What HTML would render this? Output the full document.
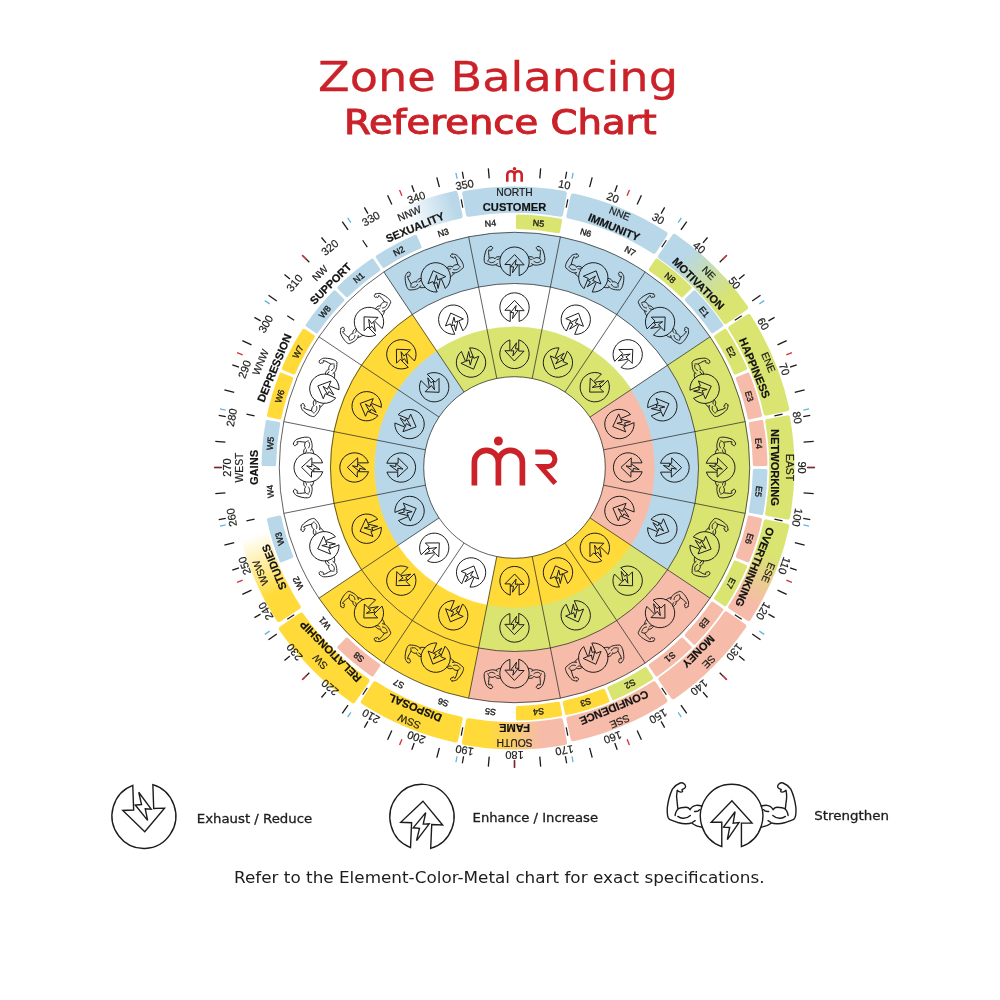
<!DOCTYPE html>
<html lang="en">
<head>
<meta charset="utf-8">
<title>Zone Balancing Reference Chart</title>
<style>
html,body{margin:0;padding:0;background:#fff;}
body{width:1000px;height:1000px;overflow:hidden;position:relative;}
svg{display:block;position:absolute;left:0;top:0;}
</style>
</head>
<body>
<svg width="1000" height="1000" viewBox="0 0 1000 1000">
<defs>
<linearGradient id="g2" gradientUnits="userSpaceOnUse" x1="682.53" y1="257.76" x2="725.55" y2="301.12"><stop offset="0" stop-color="#B8D7E8"/><stop offset="1" stop-color="#DAE470"/></linearGradient>
<linearGradient id="g5" gradientUnits="userSpaceOnUse" x1="768.63" y1="552.28" x2="747.21" y2="600.23"><stop offset="0" stop-color="#DAE470"/><stop offset="1" stop-color="#F6BCA9"/></linearGradient>
<linearGradient id="g8" gradientUnits="userSpaceOnUse" x1="540.81" y1="734.61" x2="488.19" y2="734.61"><stop offset="0" stop-color="#F6BCA9"/><stop offset="1" stop-color="#FFDA38"/></linearGradient>
<linearGradient id="g11" gradientUnits="userSpaceOnUse" x1="277.44" y1="594.21" x2="254.41" y2="535.37"><stop offset="0" stop-color="#FFDA38"/><stop offset="1" stop-color="#FFFFFF"/></linearGradient>
<linearGradient id="g15" gradientUnits="userSpaceOnUse" x1="406.74" y1="221.14" x2="454.81" y2="205.31"><stop offset="0" stop-color="#FFFFFF"/><stop offset="1" stop-color="#B8D7E8"/></linearGradient>
<g id="enh" fill="none" stroke-linejoin="miter" stroke-linecap="round"><path vector-effect="non-scaling-stroke" d="M-0.315 0.949A1 1 0 1 1 0.315 0.949L0.315 0.215L0.655 0.215L0.01 -0.485L-0.655 0.19L-0.315 0.19Z"/><path vector-effect="non-scaling-stroke" d="M-0.136 0.731L-0.062 0.352L-0.259 0.342L0.112 -0.14L0.05 0.216L0.236 0.2Z"/></g>
<g id="exh"><use href="#enh" transform="scale(1 -1)"/></g>
<g id="arms" fill="none" stroke-linejoin="round" stroke-linecap="round"><path vector-effect="non-scaling-stroke" d="M-1.648 -1.038C-1.75 -1.0 -1.85 -0.91 -1.897 -0.847C-1.97 -0.7 -2.03 -0.5 -2.059 -0.282C-2.07 -0.15 -2.06 -0.02 -2.031 0.044L-1.992 0.102C-1.9 0.14 -1.8 0.17 -1.724 0.197C-1.6 0.23 -1.5 0.24 -1.456 0.236C-1.37 0.235 -1.3 0.215 -1.264 0.197L-1.169 0.14M-1.255 0.226C-1.2 0.27 -1.1 0.32 -0.94 0.345M-1.648 -1.038C-1.6 -1.05 -1.56 -1.04 -1.533 -1.019C-1.5 -0.99 -1.475 -0.96 -1.475 -0.933C-1.475 -0.9 -1.49 -0.88 -1.513 -0.866L-1.59 -0.828L-1.571 -0.78C-1.58 -0.76 -1.6 -0.75 -1.628 -0.751C-1.68 -0.76 -1.72 -0.79 -1.743 -0.808C-1.77 -0.7 -1.77 -0.55 -1.743 -0.416L-1.724 -0.243M-1.81 -0.023C-1.8 -0.1 -1.76 -0.2 -1.686 -0.243C-1.62 -0.27 -1.58 -0.275 -1.533 -0.272C-1.45 -0.29 -1.36 -0.26 -1.331 -0.2C-1.3 -0.27 -1.22 -0.33 -1.13 -0.339C-1.07 -0.345 -1.02 -0.335 -0.945 -0.32M-1.724 0.006C-1.66 0.05 -1.6 0.063 -1.571 0.063C-1.5 0.07 -1.38 0.03 -1.322 -0.023M-1.188 -0.148C-1.13 -0.14 -1.06 -0.16 -1.025 -0.205"/><path vector-effect="non-scaling-stroke" d="M-1.648 -1.038C-1.75 -1.0 -1.85 -0.91 -1.897 -0.847C-1.97 -0.7 -2.03 -0.5 -2.059 -0.282C-2.07 -0.15 -2.06 -0.02 -2.031 0.044L-1.992 0.102C-1.9 0.14 -1.8 0.17 -1.724 0.197C-1.6 0.23 -1.5 0.24 -1.456 0.236C-1.37 0.235 -1.3 0.215 -1.264 0.197L-1.169 0.14M-1.255 0.226C-1.2 0.27 -1.1 0.32 -0.94 0.345M-1.648 -1.038C-1.6 -1.05 -1.56 -1.04 -1.533 -1.019C-1.5 -0.99 -1.475 -0.96 -1.475 -0.933C-1.475 -0.9 -1.49 -0.88 -1.513 -0.866L-1.59 -0.828L-1.571 -0.78C-1.58 -0.76 -1.6 -0.75 -1.628 -0.751C-1.68 -0.76 -1.72 -0.79 -1.743 -0.808C-1.77 -0.7 -1.77 -0.55 -1.743 -0.416L-1.724 -0.243M-1.81 -0.023C-1.8 -0.1 -1.76 -0.2 -1.686 -0.243C-1.62 -0.27 -1.58 -0.275 -1.533 -0.272C-1.45 -0.29 -1.36 -0.26 -1.331 -0.2C-1.3 -0.27 -1.22 -0.33 -1.13 -0.339C-1.07 -0.345 -1.02 -0.335 -0.945 -0.32M-1.724 0.006C-1.66 0.05 -1.6 0.063 -1.571 0.063C-1.5 0.07 -1.38 0.03 -1.322 -0.023M-1.188 -0.148C-1.13 -0.14 -1.06 -0.16 -1.025 -0.205" transform="scale(-1 1)"/></g>
<g id="str"><use href="#enh"/><use href="#arms"/></g>
</defs>
<rect width="1000" height="1000" fill="#fff"/>
<path d="M487.07 329.6A140.6 140.6 0 0 1 541.93 329.6L532.21 378.44A90.8 90.8 0 0 0 496.79 378.44Z" fill="#DAE470" stroke="#DAE470" stroke-width="0.4"/>
<path d="M468.61 236.82A235.2 235.2 0 0 1 560.39 236.82L550.4 287.04A184 184 0 0 0 478.6 287.04Z" fill="#B8D7E8" stroke="#B8D7E8" stroke-width="0.4"/>
<path d="M541.93 329.6A140.6 140.6 0 0 1 592.61 350.6L564.95 392A90.8 90.8 0 0 0 532.21 378.44Z" fill="#DAE470" stroke="#DAE470" stroke-width="0.4"/>
<path d="M560.39 236.82A235.2 235.2 0 0 1 645.17 271.94L616.72 314.51A184 184 0 0 0 550.4 287.04Z" fill="#B8D7E8" stroke="#B8D7E8" stroke-width="0.4"/>
<path d="M592.61 350.6A140.6 140.6 0 0 1 631.4 389.39L590 417.05A90.8 90.8 0 0 0 564.95 392Z" fill="#DAE470" stroke="#DAE470" stroke-width="0.4"/>
<path d="M645.17 271.94A235.2 235.2 0 0 1 710.06 336.83L667.49 365.28A184 184 0 0 0 616.72 314.51Z" fill="#B8D7E8" stroke="#B8D7E8" stroke-width="0.4"/>
<path d="M631.4 389.39A140.6 140.6 0 0 1 652.4 440.07L603.56 449.79A90.8 90.8 0 0 0 590 417.05Z" fill="#F6BCA9" stroke="#F6BCA9" stroke-width="0.4"/>
<path d="M667.74 365.11A184.3 184.3 0 0 1 695.26 431.54L652.1 440.13A140.3 140.3 0 0 0 631.16 389.55Z" fill="#B8D7E8" stroke="#B8D7E8" stroke-width="0.4"/>
<path d="M710.06 336.83A235.2 235.2 0 0 1 745.18 421.61L694.96 431.6A184 184 0 0 0 667.49 365.28Z" fill="#DAE470" stroke="#DAE470" stroke-width="0.4"/>
<path d="M652.4 440.07A140.6 140.6 0 0 1 652.4 494.93L603.56 485.21A90.8 90.8 0 0 0 603.56 449.79Z" fill="#F6BCA9" stroke="#F6BCA9" stroke-width="0.4"/>
<path d="M695.26 431.54A184.3 184.3 0 0 1 695.26 503.46L652.1 494.87A140.3 140.3 0 0 0 652.1 440.13Z" fill="#B8D7E8" stroke="#B8D7E8" stroke-width="0.4"/>
<path d="M745.18 421.61A235.2 235.2 0 0 1 745.18 513.39L694.96 503.4A184 184 0 0 0 694.96 431.6Z" fill="#DAE470" stroke="#DAE470" stroke-width="0.4"/>
<path d="M652.4 494.93A140.6 140.6 0 0 1 631.4 545.61L590 517.95A90.8 90.8 0 0 0 603.56 485.21Z" fill="#F6BCA9" stroke="#F6BCA9" stroke-width="0.4"/>
<path d="M695.26 503.46A184.3 184.3 0 0 1 667.74 569.89L631.16 545.45A140.3 140.3 0 0 0 652.1 494.87Z" fill="#B8D7E8" stroke="#B8D7E8" stroke-width="0.4"/>
<path d="M745.18 513.39A235.2 235.2 0 0 1 710.06 598.17L667.49 569.72A184 184 0 0 0 694.96 503.4Z" fill="#DAE470" stroke="#DAE470" stroke-width="0.4"/>
<path d="M631.4 545.61A140.6 140.6 0 0 1 592.61 584.4L564.95 543A90.8 90.8 0 0 0 590 517.95Z" fill="#FFDA38" stroke="#FFDA38" stroke-width="0.4"/>
<path d="M667.74 569.89A184.3 184.3 0 0 1 616.89 620.74L592.45 584.16A140.3 140.3 0 0 0 631.16 545.45Z" fill="#DAE470" stroke="#DAE470" stroke-width="0.4"/>
<path d="M710.06 598.17A235.2 235.2 0 0 1 645.17 663.06L616.72 620.49A184 184 0 0 0 667.49 569.72Z" fill="#F6BCA9" stroke="#F6BCA9" stroke-width="0.4"/>
<path d="M592.61 584.4A140.6 140.6 0 0 1 541.93 605.4L532.21 556.56A90.8 90.8 0 0 0 564.95 543Z" fill="#FFDA38" stroke="#FFDA38" stroke-width="0.4"/>
<path d="M616.89 620.74A184.3 184.3 0 0 1 550.46 648.26L541.87 605.1A140.3 140.3 0 0 0 592.45 584.16Z" fill="#DAE470" stroke="#DAE470" stroke-width="0.4"/>
<path d="M645.17 663.06A235.2 235.2 0 0 1 560.39 698.18L550.4 647.96A184 184 0 0 0 616.72 620.49Z" fill="#F6BCA9" stroke="#F6BCA9" stroke-width="0.4"/>
<path d="M541.93 605.4A140.6 140.6 0 0 1 487.07 605.4L496.79 556.56A90.8 90.8 0 0 0 532.21 556.56Z" fill="#FFDA38" stroke="#FFDA38" stroke-width="0.4"/>
<path d="M550.46 648.26A184.3 184.3 0 0 1 478.54 648.26L487.13 605.1A140.3 140.3 0 0 0 541.87 605.1Z" fill="#DAE470" stroke="#DAE470" stroke-width="0.4"/>
<path d="M560.39 698.18A235.2 235.2 0 0 1 468.61 698.18L478.6 647.96A184 184 0 0 0 550.4 647.96Z" fill="#F6BCA9" stroke="#F6BCA9" stroke-width="0.4"/>
<path d="M478.54 648.26A184.3 184.3 0 0 1 412.11 620.74L436.55 584.16A140.3 140.3 0 0 0 487.13 605.1Z" fill="#FFDA38" stroke="#FFDA38" stroke-width="0.4"/>
<path d="M468.61 698.18A235.2 235.2 0 0 1 383.83 663.06L412.28 620.49A184 184 0 0 0 478.6 647.96Z" fill="#FFDA38" stroke="#FFDA38" stroke-width="0.4"/>
<path d="M412.11 620.74A184.3 184.3 0 0 1 361.26 569.89L397.84 545.45A140.3 140.3 0 0 0 436.55 584.16Z" fill="#FFDA38" stroke="#FFDA38" stroke-width="0.4"/>
<path d="M383.83 663.06A235.2 235.2 0 0 1 318.94 598.17L361.51 569.72A184 184 0 0 0 412.28 620.49Z" fill="#FFDA38" stroke="#FFDA38" stroke-width="0.4"/>
<path d="M397.6 545.61A140.6 140.6 0 0 1 376.6 494.93L425.44 485.21A90.8 90.8 0 0 0 439 517.95Z" fill="#B8D7E8" stroke="#B8D7E8" stroke-width="0.4"/>
<path d="M361.26 569.89A184.3 184.3 0 0 1 333.74 503.46L376.9 494.87A140.3 140.3 0 0 0 397.84 545.45Z" fill="#FFDA38" stroke="#FFDA38" stroke-width="0.4"/>
<path d="M376.6 494.93A140.6 140.6 0 0 1 376.6 440.07L425.44 449.79A90.8 90.8 0 0 0 425.44 485.21Z" fill="#B8D7E8" stroke="#B8D7E8" stroke-width="0.4"/>
<path d="M333.74 503.46A184.3 184.3 0 0 1 333.74 431.54L376.9 440.13A140.3 140.3 0 0 0 376.9 494.87Z" fill="#FFDA38" stroke="#FFDA38" stroke-width="0.4"/>
<path d="M376.6 440.07A140.6 140.6 0 0 1 397.6 389.39L439 417.05A90.8 90.8 0 0 0 425.44 449.79Z" fill="#B8D7E8" stroke="#B8D7E8" stroke-width="0.4"/>
<path d="M333.74 431.54A184.3 184.3 0 0 1 361.26 365.11L397.84 389.55A140.3 140.3 0 0 0 376.9 440.13Z" fill="#FFDA38" stroke="#FFDA38" stroke-width="0.4"/>
<path d="M397.6 389.39A140.6 140.6 0 0 1 436.39 350.6L464.05 392A90.8 90.8 0 0 0 439 417.05Z" fill="#B8D7E8" stroke="#B8D7E8" stroke-width="0.4"/>
<path d="M361.26 365.11A184.3 184.3 0 0 1 412.11 314.26L436.55 350.84A140.3 140.3 0 0 0 397.84 389.55Z" fill="#FFDA38" stroke="#FFDA38" stroke-width="0.4"/>
<path d="M436.39 350.6A140.6 140.6 0 0 1 487.07 329.6L496.79 378.44A90.8 90.8 0 0 0 464.05 392Z" fill="#DAE470" stroke="#DAE470" stroke-width="0.4"/>
<path d="M383.83 271.94A235.2 235.2 0 0 1 468.61 236.82L478.6 287.04A184 184 0 0 0 412.28 314.51Z" fill="#B8D7E8" stroke="#B8D7E8" stroke-width="0.4"/>
<g fill="none" stroke="#1e1e1e" stroke-width="0.7">
<circle cx="514.5" cy="467.5" r="90.8"/>
<circle cx="514.5" cy="467.5" r="184"/>
<circle cx="514.5" cy="467.5" r="235.2"/>
<path d="M496.79 378.44L468.61 236.82"/>
<path d="M532.21 378.44L560.39 236.82"/>
<path d="M564.95 392L645.17 271.94"/>
<path d="M590 417.05L710.06 336.83"/>
<path d="M603.56 449.79L745.18 421.61"/>
<path d="M603.56 485.21L745.18 513.39"/>
<path d="M590 517.95L710.06 598.17"/>
<path d="M564.95 543L645.17 663.06"/>
<path d="M532.21 556.56L560.39 698.18"/>
<path d="M496.79 556.56L468.61 698.18"/>
<path d="M464.05 543L383.83 663.06"/>
<path d="M439 517.95L318.94 598.17"/>
<path d="M425.44 485.21L283.82 513.39"/>
<path d="M425.44 449.79L283.82 421.61"/>
<path d="M439 417.05L318.94 336.83"/>
<path d="M464.05 392L383.83 271.94"/>
</g>
<path d="M338.92 287.58A251.4 251.4 0 0 1 372.29 260.19L378.74 269.59A240 240 0 0 0 346.88 295.73Z" fill="#B8D7E8" stroke="#B8D7E8" stroke-width="3.2" stroke-linejoin="round"/>
<path d="M377.39 256.78A251.4 251.4 0 0 1 415.46 236.43L419.96 246.91A240 240 0 0 0 383.61 266.33Z" fill="#B8D7E8" stroke="#B8D7E8" stroke-width="3.2" stroke-linejoin="round"/>
<path d="M517.57 216.12A251.4 251.4 0 0 1 560.53 220.35L558.44 231.56A240 240 0 0 0 517.43 227.52Z" fill="#DAE470" stroke="#DAE470" stroke-width="3.2" stroke-linejoin="round"/>
<path d="M656.71 260.19A251.4 251.4 0 0 1 690.08 287.58L682.12 295.73A240 240 0 0 0 650.26 269.59Z" fill="#DAE470" stroke="#DAE470" stroke-width="3.2" stroke-linejoin="round"/>
<path d="M694.42 291.92A251.4 251.4 0 0 1 721.81 325.29L712.41 331.74A240 240 0 0 0 686.27 299.88Z" fill="#B8D7E8" stroke="#B8D7E8" stroke-width="3.2" stroke-linejoin="round"/>
<path d="M725.22 330.39A251.4 251.4 0 0 1 745.57 368.46L735.09 372.96A240 240 0 0 0 715.67 336.61Z" fill="#DAE470" stroke="#DAE470" stroke-width="3.2" stroke-linejoin="round"/>
<path d="M747.92 374.14A251.4 251.4 0 0 1 760.45 415.45L749.3 417.81A240 240 0 0 0 737.34 378.37Z" fill="#F6BCA9" stroke="#F6BCA9" stroke-width="3.2" stroke-linejoin="round"/>
<path d="M761.65 421.47A251.4 251.4 0 0 1 765.88 464.43L754.48 464.57A240 240 0 0 0 750.44 423.56Z" fill="#F6BCA9" stroke="#F6BCA9" stroke-width="3.2" stroke-linejoin="round"/>
<path d="M765.88 470.57A251.4 251.4 0 0 1 761.65 513.53L750.44 511.44A240 240 0 0 0 754.48 470.43Z" fill="#B8D7E8" stroke="#B8D7E8" stroke-width="3.2" stroke-linejoin="round"/>
<path d="M760.45 519.55A251.4 251.4 0 0 1 747.92 560.86L737.34 556.63A240 240 0 0 0 749.3 517.19Z" fill="#F6BCA9" stroke="#F6BCA9" stroke-width="3.2" stroke-linejoin="round"/>
<path d="M745.57 566.54A251.4 251.4 0 0 1 725.22 604.61L715.67 598.39A240 240 0 0 0 735.09 562.04Z" fill="#DAE470" stroke="#DAE470" stroke-width="3.2" stroke-linejoin="round"/>
<path d="M721.81 609.71A251.4 251.4 0 0 1 694.42 643.08L686.27 635.12A240 240 0 0 0 712.41 603.26Z" fill="#F6BCA9" stroke="#F6BCA9" stroke-width="3.2" stroke-linejoin="round"/>
<path d="M690.08 647.42A251.4 251.4 0 0 1 656.71 674.81L650.26 665.41A240 240 0 0 0 682.12 639.27Z" fill="#F6BCA9" stroke="#F6BCA9" stroke-width="3.2" stroke-linejoin="round"/>
<path d="M651.61 678.22A251.4 251.4 0 0 1 613.54 698.57L609.04 688.09A240 240 0 0 0 645.39 668.67Z" fill="#DAE470" stroke="#DAE470" stroke-width="3.2" stroke-linejoin="round"/>
<path d="M607.86 700.92A251.4 251.4 0 0 1 566.55 713.45L564.19 702.3A240 240 0 0 0 603.63 690.34Z" fill="#FFDA38" stroke="#FFDA38" stroke-width="3.2" stroke-linejoin="round"/>
<path d="M560.53 714.65A251.4 251.4 0 0 1 517.57 718.88L517.43 707.48A240 240 0 0 0 558.44 703.44Z" fill="#FFDA38" stroke="#FFDA38" stroke-width="3.2" stroke-linejoin="round"/>
<path d="M372.29 674.81A251.4 251.4 0 0 1 338.92 647.42L346.88 639.27A240 240 0 0 0 378.74 665.41Z" fill="#F6BCA9" stroke="#F6BCA9" stroke-width="3.2" stroke-linejoin="round"/>
<path d="M281.08 560.86A251.4 251.4 0 0 1 268.55 519.55L279.7 517.19A240 240 0 0 0 291.66 556.63Z" fill="#B8D7E8" stroke="#B8D7E8" stroke-width="3.2" stroke-linejoin="round"/>
<path d="M263.12 464.43A251.4 251.4 0 0 1 267.35 421.47L278.56 423.56A240 240 0 0 0 274.52 464.57Z" fill="#B8D7E8" stroke="#B8D7E8" stroke-width="3.2" stroke-linejoin="round"/>
<path d="M268.55 415.45A251.4 251.4 0 0 1 281.08 374.14L291.66 378.37A240 240 0 0 0 279.7 417.81Z" fill="#FFDA38" stroke="#FFDA38" stroke-width="3.2" stroke-linejoin="round"/>
<path d="M283.43 368.46A251.4 251.4 0 0 1 303.78 330.39L313.33 336.61A240 240 0 0 0 293.91 372.96Z" fill="#FFDA38" stroke="#FFDA38" stroke-width="3.2" stroke-linejoin="round"/>
<path d="M307.19 325.29A251.4 251.4 0 0 1 334.58 291.92L342.73 299.88A240 240 0 0 0 316.59 331.74Z" fill="#B8D7E8" stroke="#B8D7E8" stroke-width="3.2" stroke-linejoin="round"/>
<path d="M464.78 193.58A278.4 278.4 0 0 1 564.22 193.58L560.47 214.24A257.4 257.4 0 0 0 468.53 214.24Z" fill="#B8D7E8" stroke="#B8D7E8" stroke-width="5.2" stroke-linejoin="round"/>
<path d="M573.25 196.09A277.7 277.7 0 0 1 664.88 234.04L653.88 251.1A257.4 257.4 0 0 0 568.96 215.93Z" fill="#B8D7E8" stroke="#B8D7E8" stroke-width="5.2" stroke-linejoin="round"/>
<path d="M674.45 236.59A280.9 280.9 0 0 1 745.41 307.55L725.44 321.39A256.6 256.6 0 0 0 660.61 256.56Z" fill="url(#g2)" stroke="url(#g2)" stroke-width="5.2" stroke-linejoin="round"/>
<path d="M748.55 316.74A278.4 278.4 0 0 1 786.6 408.61L766.08 413.05A257.4 257.4 0 0 0 730.89 328.11Z" fill="#DAE470" stroke="#DAE470" stroke-width="5.2" stroke-linejoin="round"/>
<path d="M787.44 417.97A277.4 277.4 0 0 1 787.44 517.03L767.76 513.46A257.4 257.4 0 0 0 767.76 421.54Z" fill="#DAE470" stroke="#DAE470" stroke-width="5.2" stroke-linejoin="round"/>
<path d="M786.6 526.39A278.4 278.4 0 0 1 748.55 618.26L730.89 606.89A257.4 257.4 0 0 0 766.08 521.95Z" fill="url(#g5)" stroke="url(#g5)" stroke-width="5.2" stroke-linejoin="round"/>
<path d="M743.6 626.21A278.7 278.7 0 0 1 673.21 696.6L661.08 679.09A257.4 257.4 0 0 0 726.09 614.08Z" fill="#F6BCA9" stroke="#F6BCA9" stroke-width="5.2" stroke-linejoin="round"/>
<path d="M664.71 700.71A277.4 277.4 0 0 1 573.19 738.62L568.96 719.07A257.4 257.4 0 0 0 653.88 683.9Z" fill="#F6BCA9" stroke="#F6BCA9" stroke-width="5.2" stroke-linejoin="round"/>
<path d="M564.41 742.41A279.4 279.4 0 0 1 464.59 742.41L468.52 720.76A257.4 257.4 0 0 0 560.48 720.76Z" fill="url(#g8)" stroke="url(#g8)" stroke-width="5.2" stroke-linejoin="round"/>
<path d="M455.55 739.89A278.7 278.7 0 0 1 363.57 701.8L375.11 683.89A257.4 257.4 0 0 0 460.05 719.08Z" fill="#FFDA38" stroke="#FFDA38" stroke-width="5.2" stroke-linejoin="round"/>
<path d="M353.17 700.5A283.4 283.4 0 0 1 281.5 628.83L301.24 615.17A259.4 259.4 0 0 0 366.83 680.76Z" fill="#FFDA38" stroke="#FFDA38" stroke-width="5.2" stroke-linejoin="round"/>
<path d="M278.95 619.25A280.2 280.2 0 0 1 240.64 526.76L262.92 521.94A257.4 257.4 0 0 0 298.12 606.9Z" fill="url(#g11)" stroke="url(#g11)" stroke-width="5.2" stroke-linejoin="round"/>
<path d="M362.64 231.78A280.4 280.4 0 0 1 455.2 193.44L460.07 215.92A257.4 257.4 0 0 0 375.1 251.12Z" fill="url(#g15)" stroke="url(#g15)" stroke-width="5.2" stroke-linejoin="round"/>
<g fill="none">
<path d="M457.05 178.66L455.91 172.97" stroke="#62b4e3" stroke-width="1.3"/>
<path d="M462.8 207.59L461.18 199.45" stroke="#1a1a1a" stroke-width="1.2"/>
<path d="M571.95 178.66L573.09 172.97" stroke="#62b4e3" stroke-width="1.3"/>
<path d="M566.2 207.59L567.82 199.45" stroke="#1a1a1a" stroke-width="1.2"/>
<path d="M678.12 222.63L681.34 217.81" stroke="#62b4e3" stroke-width="1.3"/>
<path d="M661.73 247.16L666.34 240.26" stroke="#1a1a1a" stroke-width="1.2"/>
<path d="M759.37 303.88L764.19 300.66" stroke="#62b4e3" stroke-width="1.3"/>
<path d="M734.84 320.27L741.74 315.66" stroke="#1a1a1a" stroke-width="1.2"/>
<path d="M803.34 410.05L809.03 408.91" stroke="#62b4e3" stroke-width="1.3"/>
<path d="M774.41 415.8L782.55 414.18" stroke="#1a1a1a" stroke-width="1.2"/>
<path d="M803.34 524.95L809.03 526.09" stroke="#62b4e3" stroke-width="1.3"/>
<path d="M774.41 519.2L782.55 520.82" stroke="#1a1a1a" stroke-width="1.2"/>
<path d="M759.37 631.12L764.19 634.34" stroke="#62b4e3" stroke-width="1.3"/>
<path d="M734.84 614.73L741.74 619.34" stroke="#1a1a1a" stroke-width="1.2"/>
<path d="M678.12 712.37L681.34 717.19" stroke="#62b4e3" stroke-width="1.3"/>
<path d="M661.73 687.84L666.34 694.74" stroke="#1a1a1a" stroke-width="1.2"/>
<path d="M571.95 756.34L573.09 762.03" stroke="#62b4e3" stroke-width="1.3"/>
<path d="M566.2 727.41L567.82 735.55" stroke="#1a1a1a" stroke-width="1.2"/>
<path d="M457.05 756.34L455.91 762.03" stroke="#62b4e3" stroke-width="1.3"/>
<path d="M462.8 727.41L461.18 735.55" stroke="#1a1a1a" stroke-width="1.2"/>
<path d="M350.88 712.37L347.66 717.19" stroke="#62b4e3" stroke-width="1.3"/>
<path d="M367.27 687.84L362.66 694.74" stroke="#1a1a1a" stroke-width="1.2"/>
<path d="M269.63 631.12L264.81 634.34" stroke="#62b4e3" stroke-width="1.3"/>
<path d="M294.16 614.73L287.26 619.34" stroke="#1a1a1a" stroke-width="1.2"/>
<path d="M225.66 524.95L219.97 526.09" stroke="#62b4e3" stroke-width="1.3"/>
<path d="M254.59 519.2L246.45 520.82" stroke="#1a1a1a" stroke-width="1.2"/>
<path d="M225.66 410.05L219.97 408.91" stroke="#62b4e3" stroke-width="1.3"/>
<path d="M254.59 415.8L246.45 414.18" stroke="#1a1a1a" stroke-width="1.2"/>
<path d="M269.63 303.88L264.81 300.66" stroke="#62b4e3" stroke-width="1.3"/>
<path d="M294.16 320.27L287.26 315.66" stroke="#1a1a1a" stroke-width="1.2"/>
<path d="M350.88 222.63L347.66 217.81" stroke="#62b4e3" stroke-width="1.3"/>
<path d="M367.27 247.16L362.66 240.26" stroke="#1a1a1a" stroke-width="1.2"/>
<path d="M539.79 178.4L540.67 168.34" stroke="#1a1a1a" stroke-width="1.3"/>
<path d="M565.41 178.75L566.65 171.76" stroke="#1a1a1a" stroke-width="1.3"/>
<path d="M589.61 187.19L592.22 177.43" stroke="#1a1a1a" stroke-width="1.3"/>
<path d="M614.78 191.98L617.21 185.31" stroke="#1a1a1a" stroke-width="1.3"/>
<path d="M637.14 204.49L641.41 195.34" stroke="#1a1a1a" stroke-width="1.3"/>
<path d="M661.1 213.58L664.65 207.43" stroke="#1a1a1a" stroke-width="1.3"/>
<path d="M680.95 229.78L686.75 221.51" stroke="#1a1a1a" stroke-width="1.3"/>
<path d="M702.97 242.9L707.53 237.46" stroke="#1a1a1a" stroke-width="1.3"/>
<path d="M719.7 262.3L726.84 255.16" stroke="#1a1a1a" stroke-width="1.3"/>
<path d="M739.1 279.03L744.54 274.47" stroke="#1a1a1a" stroke-width="1.3"/>
<path d="M752.22 301.05L760.49 295.25" stroke="#1a1a1a" stroke-width="1.3"/>
<path d="M768.42 320.9L774.57 317.35" stroke="#1a1a1a" stroke-width="1.3"/>
<path d="M777.51 344.86L786.66 340.59" stroke="#1a1a1a" stroke-width="1.3"/>
<path d="M790.02 367.22L796.69 364.79" stroke="#1a1a1a" stroke-width="1.3"/>
<path d="M794.81 392.39L804.57 389.78" stroke="#1a1a1a" stroke-width="1.3"/>
<path d="M803.25 416.59L810.24 415.35" stroke="#1a1a1a" stroke-width="1.3"/>
<path d="M803.6 442.21L813.66 441.33" stroke="#1a1a1a" stroke-width="1.3"/>
<path d="M807.7 467.5L814.8 467.5" stroke="#1a1a1a" stroke-width="1.3"/>
<path d="M803.6 492.79L813.66 493.67" stroke="#1a1a1a" stroke-width="1.3"/>
<path d="M803.25 518.41L810.24 519.65" stroke="#1a1a1a" stroke-width="1.3"/>
<path d="M794.81 542.61L804.57 545.22" stroke="#1a1a1a" stroke-width="1.3"/>
<path d="M790.02 567.78L796.69 570.21" stroke="#1a1a1a" stroke-width="1.3"/>
<path d="M777.51 590.14L786.66 594.41" stroke="#1a1a1a" stroke-width="1.3"/>
<path d="M768.42 614.1L774.57 617.65" stroke="#1a1a1a" stroke-width="1.3"/>
<path d="M752.22 633.95L760.49 639.75" stroke="#1a1a1a" stroke-width="1.3"/>
<path d="M739.1 655.97L744.54 660.53" stroke="#1a1a1a" stroke-width="1.3"/>
<path d="M719.7 672.7L726.84 679.84" stroke="#1a1a1a" stroke-width="1.3"/>
<path d="M702.97 692.1L707.53 697.54" stroke="#1a1a1a" stroke-width="1.3"/>
<path d="M680.95 705.22L686.75 713.49" stroke="#1a1a1a" stroke-width="1.3"/>
<path d="M661.1 721.42L664.65 727.57" stroke="#1a1a1a" stroke-width="1.3"/>
<path d="M637.14 730.51L641.41 739.66" stroke="#1a1a1a" stroke-width="1.3"/>
<path d="M614.78 743.02L617.21 749.69" stroke="#1a1a1a" stroke-width="1.3"/>
<path d="M589.61 747.81L592.22 757.57" stroke="#1a1a1a" stroke-width="1.3"/>
<path d="M565.41 756.25L566.65 763.24" stroke="#1a1a1a" stroke-width="1.3"/>
<path d="M539.79 756.6L540.67 766.66" stroke="#1a1a1a" stroke-width="1.3"/>
<path d="M514.5 760.7L514.5 767.8" stroke="#1a1a1a" stroke-width="1.3"/>
<path d="M489.21 756.6L488.33 766.66" stroke="#1a1a1a" stroke-width="1.3"/>
<path d="M463.59 756.25L462.35 763.24" stroke="#1a1a1a" stroke-width="1.3"/>
<path d="M439.39 747.81L436.78 757.57" stroke="#1a1a1a" stroke-width="1.3"/>
<path d="M414.22 743.02L411.79 749.69" stroke="#1a1a1a" stroke-width="1.3"/>
<path d="M391.86 730.51L387.59 739.66" stroke="#1a1a1a" stroke-width="1.3"/>
<path d="M367.9 721.42L364.35 727.57" stroke="#1a1a1a" stroke-width="1.3"/>
<path d="M348.05 705.22L342.25 713.49" stroke="#1a1a1a" stroke-width="1.3"/>
<path d="M326.03 692.1L321.47 697.54" stroke="#1a1a1a" stroke-width="1.3"/>
<path d="M309.3 672.7L302.16 679.84" stroke="#1a1a1a" stroke-width="1.3"/>
<path d="M289.9 655.97L284.46 660.53" stroke="#1a1a1a" stroke-width="1.3"/>
<path d="M276.78 633.95L268.51 639.75" stroke="#1a1a1a" stroke-width="1.3"/>
<path d="M260.58 614.1L254.43 617.65" stroke="#1a1a1a" stroke-width="1.3"/>
<path d="M251.49 590.14L242.34 594.41" stroke="#1a1a1a" stroke-width="1.3"/>
<path d="M238.98 567.78L232.31 570.21" stroke="#1a1a1a" stroke-width="1.3"/>
<path d="M234.19 542.61L224.43 545.22" stroke="#1a1a1a" stroke-width="1.3"/>
<path d="M225.75 518.41L218.76 519.65" stroke="#1a1a1a" stroke-width="1.3"/>
<path d="M225.4 492.79L215.34 493.67" stroke="#1a1a1a" stroke-width="1.3"/>
<path d="M221.3 467.5L214.2 467.5" stroke="#1a1a1a" stroke-width="1.3"/>
<path d="M225.4 442.21L215.34 441.33" stroke="#1a1a1a" stroke-width="1.3"/>
<path d="M225.75 416.59L218.76 415.35" stroke="#1a1a1a" stroke-width="1.3"/>
<path d="M234.19 392.39L224.43 389.78" stroke="#1a1a1a" stroke-width="1.3"/>
<path d="M238.98 367.22L232.31 364.79" stroke="#1a1a1a" stroke-width="1.3"/>
<path d="M251.49 344.86L242.34 340.59" stroke="#1a1a1a" stroke-width="1.3"/>
<path d="M260.58 320.9L254.43 317.35" stroke="#1a1a1a" stroke-width="1.3"/>
<path d="M276.78 301.05L268.51 295.25" stroke="#1a1a1a" stroke-width="1.3"/>
<path d="M289.9 279.03L284.46 274.47" stroke="#1a1a1a" stroke-width="1.3"/>
<path d="M309.3 262.3L302.16 255.16" stroke="#1a1a1a" stroke-width="1.3"/>
<path d="M326.03 242.9L321.47 237.46" stroke="#1a1a1a" stroke-width="1.3"/>
<path d="M348.05 229.78L342.25 221.51" stroke="#1a1a1a" stroke-width="1.3"/>
<path d="M367.9 213.58L364.35 207.43" stroke="#1a1a1a" stroke-width="1.3"/>
<path d="M391.86 204.49L387.59 195.34" stroke="#1a1a1a" stroke-width="1.3"/>
<path d="M414.22 191.98L411.79 185.31" stroke="#1a1a1a" stroke-width="1.3"/>
<path d="M439.39 187.19L436.78 177.43" stroke="#1a1a1a" stroke-width="1.3"/>
<path d="M463.59 178.75L462.35 171.76" stroke="#1a1a1a" stroke-width="1.3"/>
<path d="M489.21 178.4L488.33 168.34" stroke="#1a1a1a" stroke-width="1.3"/>
<path d="M627.09 195.69L629.42 190.06" stroke="#d6303a" stroke-width="1.35"/>
<path d="M722.53 259.47L726.84 255.16" stroke="#d6303a" stroke-width="1.35"/>
<path d="M786.31 354.91L791.94 352.58" stroke="#d6303a" stroke-width="1.35"/>
<path d="M806.9 467.5L814.8 467.5" stroke="#8e1f28" stroke-width="1.4"/>
<path d="M786.31 580.09L791.94 582.42" stroke="#d6303a" stroke-width="1.35"/>
<path d="M722.53 675.53L726.84 679.84" stroke="#d6303a" stroke-width="1.35"/>
<path d="M627.09 739.31L629.42 744.94" stroke="#d6303a" stroke-width="1.35"/>
<path d="M514.5 759.9L514.5 767.8" stroke="#8e1f28" stroke-width="1.4"/>
<path d="M401.91 739.31L399.58 744.94" stroke="#d6303a" stroke-width="1.35"/>
<path d="M306.47 675.53L302.16 679.84" stroke="#d6303a" stroke-width="1.35"/>
<path d="M242.69 580.09L237.06 582.42" stroke="#d6303a" stroke-width="1.35"/>
<path d="M222.1 467.5L214.2 467.5" stroke="#8e1f28" stroke-width="1.4"/>
<path d="M242.69 354.91L237.06 352.58" stroke="#d6303a" stroke-width="1.35"/>
<path d="M306.47 259.47L302.16 255.16" stroke="#d6303a" stroke-width="1.35"/>
<path d="M401.91 195.69L399.58 190.06" stroke="#d6303a" stroke-width="1.35"/>
</g>
<g font-family="'Liberation Sans', Arial, sans-serif" text-anchor="middle" stroke="#1d1d1b" stroke-width="0.2">
<text x="514.5" y="184.14" font-size="11" fill="#1d1d1b" transform="rotate(10 514.5 467.5)">10</text>
<text x="514.5" y="184.14" font-size="11" fill="#1d1d1b" transform="rotate(20 514.5 467.5)">20</text>
<text x="514.5" y="184.14" font-size="11" fill="#1d1d1b" transform="rotate(30 514.5 467.5)">30</text>
<text x="514.5" y="184.14" font-size="11" fill="#1d1d1b" transform="rotate(40 514.5 467.5)">40</text>
<text x="514.5" y="184.14" font-size="11" fill="#1d1d1b" transform="rotate(50 514.5 467.5)">50</text>
<text x="514.5" y="184.14" font-size="11" fill="#1d1d1b" transform="rotate(60 514.5 467.5)">60</text>
<text x="514.5" y="184.14" font-size="11" fill="#1d1d1b" transform="rotate(70 514.5 467.5)">70</text>
<text x="514.5" y="184.14" font-size="11" fill="#1d1d1b" transform="rotate(80 514.5 467.5)">80</text>
<text x="514.5" y="184.14" font-size="11" fill="#1d1d1b" transform="rotate(90 514.5 467.5)">90</text>
<text x="514.5" y="184.14" font-size="11" fill="#1d1d1b" transform="rotate(100 514.5 467.5)">100</text>
<text x="514.5" y="184.14" font-size="11" fill="#1d1d1b" transform="rotate(110 514.5 467.5)">110</text>
<text x="514.5" y="184.14" font-size="11" fill="#1d1d1b" transform="rotate(120 514.5 467.5)">120</text>
<text x="514.5" y="184.14" font-size="11" fill="#1d1d1b" transform="rotate(130 514.5 467.5)">130</text>
<text x="514.5" y="184.14" font-size="11" fill="#1d1d1b" transform="rotate(140 514.5 467.5)">140</text>
<text x="514.5" y="184.14" font-size="11" fill="#1d1d1b" transform="rotate(150 514.5 467.5)">150</text>
<text x="514.5" y="184.14" font-size="11" fill="#1d1d1b" transform="rotate(160 514.5 467.5)">160</text>
<text x="514.5" y="184.14" font-size="11" fill="#1d1d1b" transform="rotate(170 514.5 467.5)">170</text>
<text x="514.5" y="184.14" font-size="11" fill="#1d1d1b" transform="rotate(180 514.5 467.5)">180</text>
<text x="514.5" y="184.14" font-size="11" fill="#1d1d1b" transform="rotate(190 514.5 467.5)">190</text>
<text x="514.5" y="184.14" font-size="11" fill="#1d1d1b" transform="rotate(200 514.5 467.5)">200</text>
<text x="514.5" y="184.14" font-size="11" fill="#1d1d1b" transform="rotate(210 514.5 467.5)">210</text>
<text x="514.5" y="184.14" font-size="11" fill="#1d1d1b" transform="rotate(220 514.5 467.5)">220</text>
<text x="514.5" y="184.14" font-size="11" fill="#1d1d1b" transform="rotate(230 514.5 467.5)">230</text>
<text x="514.5" y="184.14" font-size="11" fill="#1d1d1b" transform="rotate(240 514.5 467.5)">240</text>
<text x="514.5" y="184.14" font-size="11" fill="#1d1d1b" transform="rotate(250 514.5 467.5)">250</text>
<text x="514.5" y="184.14" font-size="11" fill="#1d1d1b" transform="rotate(260 514.5 467.5)">260</text>
<text x="514.5" y="184.14" font-size="11" fill="#1d1d1b" transform="rotate(270 514.5 467.5)">270</text>
<text x="514.5" y="184.14" font-size="11" fill="#1d1d1b" transform="rotate(280 514.5 467.5)">280</text>
<text x="514.5" y="184.14" font-size="11" fill="#1d1d1b" transform="rotate(290 514.5 467.5)">290</text>
<text x="514.5" y="184.14" font-size="11" fill="#1d1d1b" transform="rotate(300 514.5 467.5)">300</text>
<text x="514.5" y="184.14" font-size="11" fill="#1d1d1b" transform="rotate(310 514.5 467.5)">310</text>
<text x="514.5" y="184.14" font-size="11" fill="#1d1d1b" transform="rotate(320 514.5 467.5)">320</text>
<text x="514.5" y="184.14" font-size="11" fill="#1d1d1b" transform="rotate(330 514.5 467.5)">330</text>
<text x="514.5" y="184.14" font-size="11" fill="#1d1d1b" transform="rotate(340 514.5 467.5)">340</text>
<text x="514.5" y="184.14" font-size="11" fill="#1d1d1b" transform="rotate(350 514.5 467.5)">350</text>
<text x="514.5" y="196.19" font-size="10.3" fill="#1d1d1b" transform="rotate(0 514.5 467.5)">NORTH</text>
<text x="514.5" y="211.37" font-size="11.1" font-weight="bold" fill="#111" transform="rotate(0 514.5 467.5)">CUSTOMER</text>
<text x="514.5" y="196.19" font-size="10.3" fill="#1d1d1b" transform="rotate(22.5 514.5 467.5)">NNE</text>
<text x="514.5" y="211.37" font-size="11.1" font-weight="bold" fill="#111" transform="rotate(22.5 514.5 467.5)">IMMUNITY</text>
<text x="514.5" y="196.19" font-size="10.3" fill="#1d1d1b" transform="rotate(45 514.5 467.5)">NE</text>
<text x="514.5" y="211.37" font-size="11.1" font-weight="bold" fill="#111" transform="rotate(45 514.5 467.5)">MOTIVATION</text>
<text x="514.5" y="196.19" font-size="10.3" fill="#1d1d1b" transform="rotate(67.5 514.5 467.5)">ENE</text>
<text x="514.5" y="211.37" font-size="11.1" font-weight="bold" fill="#111" transform="rotate(67.5 514.5 467.5)">HAPPINESS</text>
<text x="514.5" y="196.19" font-size="10.3" fill="#1d1d1b" transform="rotate(90 514.5 467.5)">EAST</text>
<text x="514.5" y="211.37" font-size="11.1" font-weight="bold" fill="#111" transform="rotate(90 514.5 467.5)">NETWORKING</text>
<text x="514.5" y="196.19" font-size="10.3" fill="#1d1d1b" transform="rotate(112.5 514.5 467.5)">ESE</text>
<text x="514.5" y="211.37" font-size="11.1" font-weight="bold" fill="#111" transform="rotate(112.5 514.5 467.5)">OVERTHINKING</text>
<text x="514.5" y="196.19" font-size="10.3" fill="#1d1d1b" transform="rotate(135 514.5 467.5)">SE</text>
<text x="514.5" y="211.37" font-size="11.1" font-weight="bold" fill="#111" transform="rotate(135 514.5 467.5)">MONEY</text>
<text x="514.5" y="196.19" font-size="10.3" fill="#1d1d1b" transform="rotate(157.5 514.5 467.5)">SSE</text>
<text x="514.5" y="211.37" font-size="11.1" font-weight="bold" fill="#111" transform="rotate(157.5 514.5 467.5)">CONFIDENCE</text>
<text x="514.5" y="196.19" font-size="10.3" fill="#1d1d1b" transform="rotate(180 514.5 467.5)">SOUTH</text>
<text x="514.5" y="211.37" font-size="11.1" font-weight="bold" fill="#111" transform="rotate(180 514.5 467.5)">FAME</text>
<text x="514.5" y="196.19" font-size="10.3" fill="#1d1d1b" transform="rotate(202.5 514.5 467.5)">SSW</text>
<text x="514.5" y="211.37" font-size="11.1" font-weight="bold" fill="#111" transform="rotate(202.5 514.5 467.5)">DISPOSAL</text>
<text x="514.5" y="196.19" font-size="10.3" fill="#1d1d1b" transform="rotate(225 514.5 467.5)">SW</text>
<text x="514.5" y="211.37" font-size="11.1" font-weight="bold" fill="#111" transform="rotate(225 514.5 467.5)">RELATIONSHIP</text>
<text x="514.5" y="196.19" font-size="10.3" fill="#1d1d1b" transform="rotate(247.5 514.5 467.5)">WSW</text>
<text x="514.5" y="211.37" font-size="11.1" font-weight="bold" fill="#111" transform="rotate(247.5 514.5 467.5)">STUDIES</text>
<text x="514.5" y="196.19" font-size="10.3" fill="#1d1d1b" transform="rotate(270 514.5 467.5)">WEST</text>
<text x="514.5" y="211.37" font-size="11.1" font-weight="bold" fill="#111" transform="rotate(270 514.5 467.5)">GAINS</text>
<text x="514.5" y="196.19" font-size="10.3" fill="#1d1d1b" transform="rotate(292.5 514.5 467.5)">WNW</text>
<text x="514.5" y="211.37" font-size="11.1" font-weight="bold" fill="#111" transform="rotate(292.5 514.5 467.5)">DEPRESSION</text>
<text x="514.5" y="196.19" font-size="10.3" fill="#1d1d1b" transform="rotate(315 514.5 467.5)">NW</text>
<text x="514.5" y="211.37" font-size="11.1" font-weight="bold" fill="#111" transform="rotate(315 514.5 467.5)">SUPPORT</text>
<text x="514.5" y="196.19" font-size="10.3" fill="#1d1d1b" transform="rotate(337.5 514.5 467.5)">NNW</text>
<text x="514.5" y="211.37" font-size="11.1" font-weight="bold" fill="#111" transform="rotate(337.5 514.5 467.5)">SEXUALITY</text>
<text x="514.5" y="225.19" font-size="8.9" fill="#1d1d1b" transform="rotate(320.62 514.5 467.5)" stroke-width="0.35">N1</text>
<text x="514.5" y="225.19" font-size="8.9" fill="#1d1d1b" transform="rotate(331.88 514.5 467.5)" stroke-width="0.35">N2</text>
<text x="514.5" y="225.19" font-size="8.9" fill="#1d1d1b" transform="rotate(343.12 514.5 467.5)" stroke-width="0.35">N3</text>
<text x="514.5" y="225.19" font-size="8.9" fill="#1d1d1b" transform="rotate(354.38 514.5 467.5)" stroke-width="0.35">N4</text>
<text x="514.5" y="225.19" font-size="8.9" fill="#1d1d1b" transform="rotate(5.62 514.5 467.5)" stroke-width="0.35">N5</text>
<text x="514.5" y="225.19" font-size="8.9" fill="#1d1d1b" transform="rotate(16.88 514.5 467.5)" stroke-width="0.35">N6</text>
<text x="514.5" y="225.19" font-size="8.9" fill="#1d1d1b" transform="rotate(28.12 514.5 467.5)" stroke-width="0.35">N7</text>
<text x="514.5" y="225.19" font-size="8.9" fill="#1d1d1b" transform="rotate(39.38 514.5 467.5)" stroke-width="0.35">N8</text>
<text x="514.5" y="225.19" font-size="8.9" fill="#1d1d1b" transform="rotate(50.62 514.5 467.5)" stroke-width="0.35">E1</text>
<text x="514.5" y="225.19" font-size="8.9" fill="#1d1d1b" transform="rotate(61.88 514.5 467.5)" stroke-width="0.35">E2</text>
<text x="514.5" y="225.19" font-size="8.9" fill="#1d1d1b" transform="rotate(73.12 514.5 467.5)" stroke-width="0.35">E3</text>
<text x="514.5" y="225.19" font-size="8.9" fill="#1d1d1b" transform="rotate(84.38 514.5 467.5)" stroke-width="0.35">E4</text>
<text x="514.5" y="225.19" font-size="8.9" fill="#1d1d1b" transform="rotate(95.62 514.5 467.5)" stroke-width="0.35">E5</text>
<text x="514.5" y="225.19" font-size="8.9" fill="#1d1d1b" transform="rotate(106.88 514.5 467.5)" stroke-width="0.35">E6</text>
<text x="514.5" y="225.19" font-size="8.9" fill="#1d1d1b" transform="rotate(118.12 514.5 467.5)" stroke-width="0.35">E7</text>
<text x="514.5" y="225.19" font-size="8.9" fill="#1d1d1b" transform="rotate(129.38 514.5 467.5)" stroke-width="0.35">E8</text>
<text x="514.5" y="225.19" font-size="8.9" fill="#1d1d1b" transform="rotate(140.62 514.5 467.5)" stroke-width="0.35">S1</text>
<text x="514.5" y="225.19" font-size="8.9" fill="#1d1d1b" transform="rotate(151.88 514.5 467.5)" stroke-width="0.35">S2</text>
<text x="514.5" y="225.19" font-size="8.9" fill="#1d1d1b" transform="rotate(163.12 514.5 467.5)" stroke-width="0.35">S3</text>
<text x="514.5" y="225.19" font-size="8.9" fill="#1d1d1b" transform="rotate(174.38 514.5 467.5)" stroke-width="0.35">S4</text>
<text x="514.5" y="225.19" font-size="8.9" fill="#1d1d1b" transform="rotate(185.62 514.5 467.5)" stroke-width="0.35">S5</text>
<text x="514.5" y="225.19" font-size="8.9" fill="#1d1d1b" transform="rotate(196.88 514.5 467.5)" stroke-width="0.35">S6</text>
<text x="514.5" y="225.19" font-size="8.9" fill="#1d1d1b" transform="rotate(208.12 514.5 467.5)" stroke-width="0.35">S7</text>
<text x="514.5" y="225.19" font-size="8.9" fill="#1d1d1b" transform="rotate(219.38 514.5 467.5)" stroke-width="0.35">S8</text>
<text x="514.5" y="225.19" font-size="8.9" fill="#1d1d1b" transform="rotate(230.62 514.5 467.5)" stroke-width="0.35">W1</text>
<text x="514.5" y="225.19" font-size="8.9" fill="#1d1d1b" transform="rotate(241.88 514.5 467.5)" stroke-width="0.35">W2</text>
<text x="514.5" y="225.19" font-size="8.9" fill="#1d1d1b" transform="rotate(253.12 514.5 467.5)" stroke-width="0.35">W3</text>
<text x="514.5" y="225.19" font-size="8.9" fill="#1d1d1b" transform="rotate(264.38 514.5 467.5)" stroke-width="0.35">W4</text>
<text x="514.5" y="225.19" font-size="8.9" fill="#1d1d1b" transform="rotate(275.62 514.5 467.5)" stroke-width="0.35">W5</text>
<text x="514.5" y="225.19" font-size="8.9" fill="#1d1d1b" transform="rotate(286.88 514.5 467.5)" stroke-width="0.35">W6</text>
<text x="514.5" y="225.19" font-size="8.9" fill="#1d1d1b" transform="rotate(298.12 514.5 467.5)" stroke-width="0.35">W7</text>
<text x="514.5" y="225.19" font-size="8.9" fill="#1d1d1b" transform="rotate(309.38 514.5 467.5)" stroke-width="0.35">W8</text>
</g>
<g stroke="#1e1e1e" stroke-width="1">
<use href="#enh" transform="translate(514.5 353.9) rotate(180) scale(14.7)"/>
<use href="#enh" transform="translate(514.5 307.5) rotate(0) scale(14.7)"/>
<use href="#str" transform="translate(514.5 261.7) rotate(0) scale(14.7)"/>
<use href="#enh" transform="translate(557.97 362.55) rotate(202.5) scale(14.7)"/>
<use href="#enh" transform="translate(575.73 319.68) rotate(22.5) scale(14.7)"/>
<use href="#str" transform="translate(593.26 277.37) rotate(22.5) scale(14.7)"/>
<use href="#enh" transform="translate(594.83 387.17) rotate(225) scale(14.7)"/>
<use href="#enh" transform="translate(627.64 354.36) rotate(45) scale(14.7)"/>
<use href="#str" transform="translate(660.02 321.98) rotate(45) scale(14.7)"/>
<use href="#enh" transform="translate(619.45 424.03) rotate(247.5) scale(14.7)"/>
<use href="#enh" transform="translate(662.32 406.27) rotate(67.5) scale(14.7)"/>
<use href="#str" transform="translate(704.63 388.74) rotate(67.5) scale(14.7)"/>
<use href="#enh" transform="translate(628.1 467.5) rotate(270) scale(14.7)"/>
<use href="#enh" transform="translate(674.5 467.5) rotate(90) scale(14.7)"/>
<use href="#str" transform="translate(720.3 467.5) rotate(90) scale(14.7)"/>
<use href="#enh" transform="translate(619.45 510.97) rotate(292.5) scale(14.7)"/>
<use href="#enh" transform="translate(662.32 528.73) rotate(112.5) scale(14.7)"/>
<use href="#str" transform="translate(704.63 546.26) rotate(112.5) scale(14.7)"/>
<use href="#enh" transform="translate(594.83 547.83) rotate(315) scale(14.7)"/>
<use href="#enh" transform="translate(627.64 580.64) rotate(135) scale(14.7)"/>
<use href="#str" transform="translate(660.02 613.02) rotate(135) scale(14.7)"/>
<use href="#enh" transform="translate(557.97 572.45) rotate(337.5) scale(14.7)"/>
<use href="#enh" transform="translate(575.73 615.32) rotate(157.5) scale(14.7)"/>
<use href="#str" transform="translate(593.26 657.63) rotate(157.5) scale(14.7)"/>
<use href="#enh" transform="translate(514.5 581.1) rotate(360) scale(14.7)"/>
<use href="#enh" transform="translate(514.5 627.5) rotate(180) scale(14.7)"/>
<use href="#str" transform="translate(514.5 673.3) rotate(180) scale(14.7)"/>
<use href="#enh" transform="translate(471.03 572.45) rotate(382.5) scale(14.7)"/>
<use href="#enh" transform="translate(453.27 615.32) rotate(202.5) scale(14.7)"/>
<use href="#str" transform="translate(435.74 657.63) rotate(202.5) scale(14.7)"/>
<use href="#enh" transform="translate(434.17 547.83) rotate(405) scale(14.7)"/>
<use href="#enh" transform="translate(401.36 580.64) rotate(225) scale(14.7)"/>
<use href="#str" transform="translate(368.98 613.02) rotate(225) scale(14.7)"/>
<use href="#enh" transform="translate(409.55 510.97) rotate(427.5) scale(14.7)"/>
<use href="#enh" transform="translate(366.68 528.73) rotate(247.5) scale(14.7)"/>
<use href="#str" transform="translate(324.37 546.26) rotate(247.5) scale(14.7)"/>
<use href="#enh" transform="translate(400.9 467.5) rotate(450) scale(14.7)"/>
<use href="#enh" transform="translate(354.5 467.5) rotate(270) scale(14.7)"/>
<use href="#str" transform="translate(308.7 467.5) rotate(270) scale(14.7)"/>
<use href="#enh" transform="translate(409.55 424.03) rotate(472.5) scale(14.7)"/>
<use href="#enh" transform="translate(366.68 406.27) rotate(292.5) scale(14.7)"/>
<use href="#str" transform="translate(324.37 388.74) rotate(292.5) scale(14.7)"/>
<use href="#enh" transform="translate(434.17 387.17) rotate(495) scale(14.7)"/>
<use href="#enh" transform="translate(401.36 354.36) rotate(315) scale(14.7)"/>
<use href="#str" transform="translate(368.98 321.98) rotate(315) scale(14.7)"/>
<use href="#enh" transform="translate(471.03 362.55) rotate(517.5) scale(14.7)"/>
<use href="#enh" transform="translate(453.27 319.68) rotate(337.5) scale(14.7)"/>
<use href="#str" transform="translate(435.74 277.37) rotate(337.5) scale(14.7)"/>
</g>
<g transform="translate(498.4 462.3) scale(1)" fill="none" stroke="#CB2129" stroke-width="5.7"><path d="M-24 23.2L-24 0A12 12 0 0 1 0 0L0 23.2M0 0A12 12 0 0 1 24 0L24 23.2"/><circle cx="0" cy="-21.3" r="4.5" fill="#CB2129" stroke="none"/></g>
<path d="M535.3 452L547.6 452A7.3 7.3 0 0 1 547.6 466.6L540.5 466.6L555.3 483.4" fill="none" stroke="#CB2129" stroke-width="5.1" stroke-linejoin="miter"/>
<g transform="translate(514.5 174.8) scale(0.3)" fill="none" stroke="#CB2129" stroke-width="8.6"><path d="M-24 23.2L-24 0A12 12 0 0 1 0 0L0 23.2M0 0A12 12 0 0 1 24 0L24 23.2"/><circle cx="0" cy="-20.5" r="5.8" fill="#CB2129" stroke="none"/></g>
<g font-family="'DejaVu Sans', 'Liberation Sans', sans-serif" fill="#CB2129" text-anchor="middle">
<text id="t1" x="498" y="91.2" font-size="41.7" stroke="#CB2129" stroke-width="0.3" textLength="360" lengthAdjust="spacingAndGlyphs">Zone Balancing</text>
<text id="t2" x="500.3" y="134" font-size="32.9" stroke="#CB2129" stroke-width="1.0" textLength="312.5" lengthAdjust="spacingAndGlyphs">Reference Chart</text>
</g>
<g font-family="'DejaVu Sans', 'Liberation Sans', sans-serif" fill="#1d1d1b" stroke="#1d1d1b" stroke-width="0.3">
<text id="l1" x="196.8" y="822.8" font-size="12.5" textLength="115.4" lengthAdjust="spacingAndGlyphs">Exhaust / Reduce</text>
<text id="l2" x="472.6" y="822.4" font-size="12.5" textLength="125.4" lengthAdjust="spacingAndGlyphs">Enhance / Increase</text>
<text id="l3" x="814.3" y="820" font-size="12.5" textLength="74.7" lengthAdjust="spacingAndGlyphs">Strengthen</text>
<text id="ft" x="234" y="883.3" font-size="16.2" stroke="none" textLength="530.6" lengthAdjust="spacingAndGlyphs">Refer to the Element-Color-Metal chart for exact specifications.</text>
</g>
<g stroke="#1c1c1c" stroke-width="1.4">
<use href="#exh" transform="translate(143.9 815.9) rotate(-2) scale(31.9 32.6)"/>
<use href="#enh" transform="translate(421.95 817) rotate(2.5) scale(32.05 32.7)"/>
<use href="#str" transform="translate(731.6 816.2) scale(31.2 32)"/>
</g>
</svg>
</body>
</html>
